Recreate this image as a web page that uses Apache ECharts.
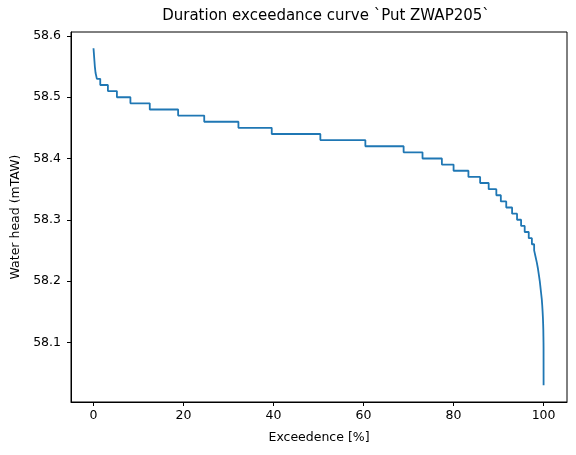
<!DOCTYPE html>
<html>
<head>
<meta charset="utf-8">
<script src="https://cdn.jsdelivr.net/npm/echarts@6/dist/echarts.min.js"></script>
<style>
  html, body { margin: 0; padding: 0; background: #fff; }
  #chart { width: 576px; height: 455px; }
</style>
</head>
<body>
<div id="chart"></div>
<script>
// exceedance [%] at which each water head level starts (step plot)
const exceedance = [
  0, 0.1, 0.2, 0.3, 0.45, 0.75, 1.5, 3.2, 5.2, 8.2,
  12.5, 18.8, 24.6, 32.2, 39.6, 50.4, 60.4, 68.9, 73.1, 77.4,
  80.0, 83.3, 85.9, 87.8, 89.5, 90.5, 91.7, 93.0, 94.1, 95.0,
  95.8, 96.7, 97.4, 97.9, 98.2, 98.5, 98.75, 98.95, 99.15, 99.3,
  99.45, 99.6, 99.7, 99.78, 99.85, 99.9, 99.94, 99.96, 99.98, 99.99,
  100
];
const head = [
  58.58, 58.57, 58.56, 58.55, 58.54, 58.53, 58.52, 58.51, 58.50, 58.49,
  58.48, 58.47, 58.46, 58.45, 58.44, 58.43, 58.42, 58.41, 58.40, 58.39,
  58.38, 58.37, 58.36, 58.35, 58.34, 58.33, 58.32, 58.31, 58.30, 58.29,
  58.28, 58.27, 58.26, 58.25, 58.24, 58.23, 58.22, 58.21, 58.20, 58.19,
  58.18, 58.17, 58.16, 58.15, 58.14, 58.13, 58.12, 58.11, 58.10, 58.09,
  58.03
];
const x_ticks = [0, 20, 40, 60, 80, 100];
const y_ticks = [58.1, 58.2, 58.3, 58.4, 58.5, 58.6];

const font = "DejaVu Sans";

const axis_style = {
  axisLine: { show: true, onZero: false, lineStyle: { color: "#000", width: 1 } },
  axisTick: { show: true, inside: false, length: 4, lineStyle: { color: "#000", width: 1 } },
  axisLabel: { color: "#000", fontFamily: font, fontSize: 12.5 },
  splitLine: { show: false },
  nameTextStyle: { color: "#000", fontFamily: font, fontSize: 12.5 }
};

const chart = echarts.init(document.getElementById("chart"));
chart.setOption({
  animation: false,
  backgroundColor: "#fff",
  title: {
    text: "Duration exceedance curve `Put ZWAP205`",
    left: 321,
    textAlign: "center",
    top: 4,
    textStyle: { color: "#000", fontFamily: font, fontSize: 15, fontWeight: "normal" }
  },
  grid: {
    left: 71, right: 9, top: 32, bottom: 53,
    show: true, borderColor: "#000", borderWidth: 1
  },
  xAxis: echarts.util.merge({
    type: "value",
    min: -5,
    max: 105.2,
    name: "Exceedence [%]",
    nameLocation: "middle",
    nameGap: 29,
    axisLabel: { margin: 7, customValues: x_ticks, formatter: v => String(Math.round(v)) },
    axisTick: { customValues: x_ticks }
  }, axis_style, false),
  yAxis: echarts.util.merge({
    type: "value",
    min: 58.0025,
    max: 58.6065,
    name: "Water head (mTAW)",
    nameLocation: "middle",
    nameGap: 47,
    axisLabel: { margin: 10, customValues: y_ticks, formatter: v => v.toFixed(1) },
    axisTick: { customValues: y_ticks }
  }, axis_style, false),
  series: [{
    type: "line",
    step: "end",
    showSymbol: false,
    data: exceedance.map((x, i) => [x, head[i]]),
    lineStyle: { color: "#1f77b4", width: 1.8 },
    itemStyle: { color: "#1f77b4" }
  }]
});
</script>
</body>
</html>
